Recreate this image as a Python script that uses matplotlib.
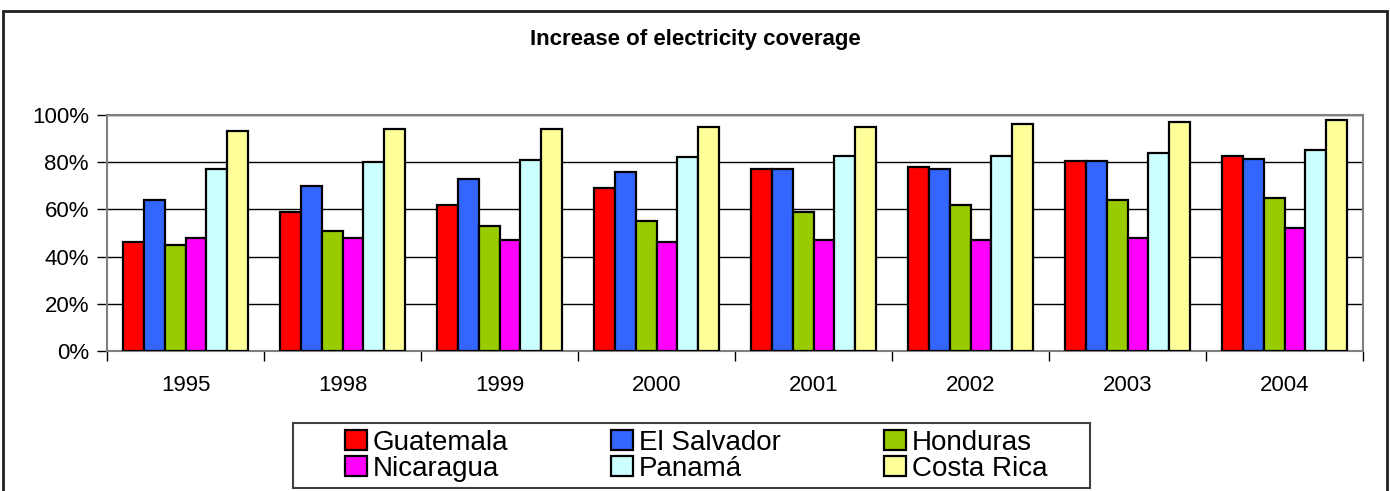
import numpy as np
import matplotlib.pyplot as plt
from matplotlib.patches import Rectangle
from matplotlib.ticker import PercentFormatter

years = ['1995', '1998', '1999', '2000', '2001', '2002', '2003', '2004']
countries = ['Guatemala', 'El Salvador', 'Honduras', 'Nicaragua', 'Panamá', 'Costa Rica']
colors = ['#ff0000', '#3366ff', '#99cc00', '#ff00ff', '#ccffff', '#ffff99']

guatemala = [46, 59, 62, 69, 77, 78, 80.5, 82.5]
el_salvador = [64, 70, 73, 76, 77, 77, 80.5, 81.5]
honduras = [45, 51, 53, 55, 59, 62, 64, 65]
nicaragua = [48, 48, 47, 46, 47, 47, 48, 52]
panama = [77, 80, 81, 82, 82.5, 82.5, 84, 85]
costa_rica = [93, 94, 94, 95, 95, 96, 97, 98]
series = [guatemala, el_salvador, honduras, nicaragua, panama, costa_rica]

plt.rcParams['font.family'] = ['Liberation Sans', 'DejaVu Sans']

fig = plt.figure(figsize=(13.9, 4.91), dpi=100)
ax = fig.add_axes([0.077, 0.285, 0.9036, 0.481])

x = np.arange(len(years))
w = 0.8 / len(series)
bars = []
for i, (vals, c, name) in enumerate(zip(series, colors, countries)):
    b = ax.bar(x - 0.4 + w * (i + 0.5), vals, w, color=c, edgecolor='black',
               linewidth=1.6, label=name, zorder=3)
    bars.append(b)

ax.set_xlim(-0.5, len(years) - 0.5)
ax.set_ylim(0, 100)
ax.set_yticks(np.arange(0, 101, 20))
ax.yaxis.set_major_formatter(PercentFormatter(decimals=0))
ax.yaxis.grid(True, color='black', linewidth=1, zorder=0)
ax.set_axisbelow(True)

ax.set_xticks(x)
ax.set_xticklabels(years)
ax.set_xticks(np.arange(-0.5, len(years)), minor=True)
ax.tick_params(axis='x', which='major', length=0, pad=17, labelsize=16)
ax.tick_params(axis='x', which='minor', length=7, width=1, direction='out')
ax.tick_params(axis='y', length=7, width=1, labelsize=16, pad=6)

for s in ax.spines.values():
    s.set_color('#808080')
    s.set_linewidth(1.5)

fig.text(0.5, 0.92, 'Increase of electricity coverage', ha='center', va='center',
         fontsize=16, fontweight='bold')

# legend filled row by row like the original
order = [0, 3, 1, 4, 2, 5]
leg = fig.legend([bars[i] for i in order], [countries[i] for i in order],
                 loc='center', bbox_to_anchor=(0.5007, 0.0713), ncol=3,
                 fontsize=20, frameon=False,
                 handlelength=0.79, handleheight=0.72, handletextpad=0.22,
                 columnspacing=3.7, labelspacing=0, borderpad=0)

fig.patches.append(Rectangle((293 / 1390, 1 - 488 / 491), 797 / 1390, 65 / 491,
                             transform=fig.transFigure, fill=False,
                             edgecolor='#404040', linewidth=1.5))

# the chart frame
fig.patches.append(Rectangle((3 / 1390, -0.01), 1384 / 1390, 1 - 11 / 491 + 0.01,
                             transform=fig.transFigure, fill=False,
                             edgecolor='#202020', linewidth=2))

fig.savefig('out.png', dpi=100)
